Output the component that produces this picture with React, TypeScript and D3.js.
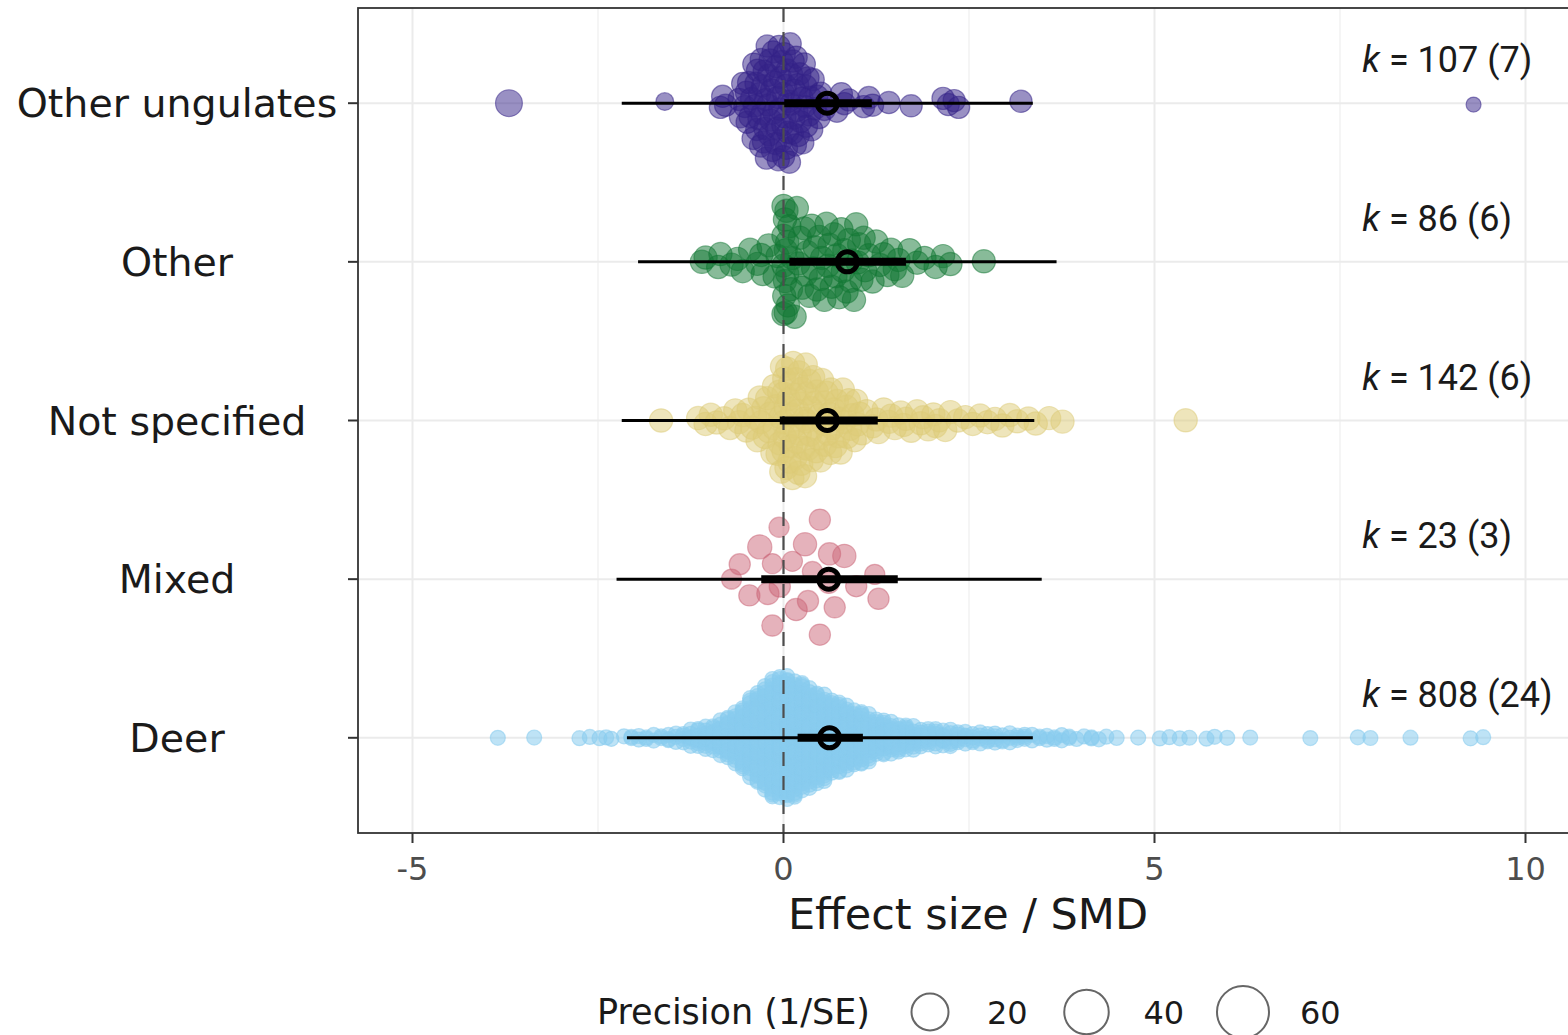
import React, { useMemo } from 'react';
import * as d3 from 'd3';

// ---------- data ----------
const categories = ['Other ungulates', 'Other', 'Not specified', 'Mixed', 'Deer'];
const colors = ['#332288', '#117733', '#DDCC77', '#CC6677', '#88CCEE'];
const kLabels = ['107 (7)', '86 (6)', '142 (6)', '23 (3)', '808 (24)'];
const kLabelX = 7.8;

const estimates = [0.59, 0.86, 0.59, 0.61, 0.62];
const ciLow = [0.01, 0.08, -0.05, -0.3, 0.19];
const ciHigh = [1.19, 1.65, 1.27, 1.54, 1.07];
const piLow = [-2.18, -1.96, -2.18, -2.25, -2.11];
const piHigh = [3.36, 3.68, 3.38, 3.48, 3.36];

const xTicks = [-5, 0, 5, 10];
const xMinor = [-2.5, 2.5, 7.5];
const legendPrecision = [20, 40, 60];

// Other ungulates (k = 107)
const ouValues = [
  -0.6, -0.58, -0.55, -0.52,
  -0.5, -0.49, -0.47, -0.45, -0.43, -0.41,
  -0.4, -0.39, -0.37, -0.36, -0.35, -0.33, -0.32, -0.31,
  -0.3, -0.29, -0.28, -0.27, -0.26, -0.25, -0.24, -0.23, -0.22, -0.21,
  -0.2, -0.19, -0.18, -0.17, -0.16, -0.15, -0.14, -0.13, -0.12, -0.11, -0.1,
  -0.09, -0.08, -0.07, -0.06, -0.05, -0.04, -0.03, -0.02, -0.01, 0, 0,
  0.01, 0.02, 0.03, 0.04, 0.05, 0.06, 0.07, 0.08, 0.09, 0.1,
  0.11, 0.12, 0.13, 0.14, 0.15, 0.16, 0.17, 0.18, 0.19,
  0.2, 0.22, 0.23, 0.25, 0.26, 0.28, 0.29, 0.3,
  0.31, 0.33, 0.35, 0.36, 0.38, 0.4,
  0.42, 0.45, 0.48, 0.5, 0.55, 0.6,
  -0.85, -0.82, -0.78,
  0.72, 0.78, 0.82, 0.88, 1.08, 1.15, 1.2, 1.42, 1.72, 2.15, 2.22, 2.3, 2.36, 3.2,
];
const ouPrecision = 11;
const ouOutliers: [number, number][] = [[-3.7, 16], [-1.6, 7], [9.3, 5]];

// Other (k = 86)
const otherValues = [
  -1.1, -1.05, -0.88, -0.85, -0.7, -0.62, -0.55, -0.45, -0.35, -0.3, -0.28, -0.2, -0.12, -0.08,
  0, 0, 0, 0, 0.01, 0.02, 0.02, 0.03, 0.03, 0.04, 0.05, 0.05, 0.06, 0.08,
  0.1, 0.12, 0.15, 0.18, 0.2, 0.22, 0.25, 0.28, 0.3, 0.32, 0.35, 0.38, 0.4, 0.42, 0.45, 0.48, 0.5, 0.52, 0.55, 0.58, 0.6,
  0.62, 0.65, 0.68, 0.7, 0.72, 0.75, 0.78, 0.8, 0.82, 0.85, 0.88, 0.9, 0.92, 0.95, 0.98, 1.0, 1.02, 1.05, 1.08, 1.1,
  1.15, 1.2, 1.25, 1.3, 1.35, 1.4, 1.45, 1.5, 1.55, 1.6,
  1.7, 1.8, 1.9, 2.05, 2.15, 2.25, 2.7,
];
const otherPrecision = 12;

// Not specified (k = 142)
const nsValues = [
  -1.65, -1.15, -1.05, -0.98, -0.9, -0.8, -0.72, -0.65, -0.6, -0.55, -0.5, -0.47, -0.42, -0.38, -0.35, -0.32, -0.3, -0.27, -0.25, -0.22,
  -0.2, -0.18, -0.15, -0.13, -0.12, -0.1, -0.08, -0.06, -0.05, -0.04, -0.03, -0.02, 0, 0, 0, 0.01, 0.02, 0.03, 0.04,
  0.05, 0.06, 0.07, 0.08, 0.09, 0.1, 0.11, 0.12, 0.13, 0.14, 0.15, 0.16, 0.17, 0.18, 0.19, 0.2, 0.21, 0.22, 0.23, 0.24,
  0.25, 0.27, 0.28, 0.29, 0.3, 0.31, 0.32, 0.33, 0.35, 0.36, 0.37, 0.38, 0.4, 0.41, 0.42, 0.44, 0.45, 0.47, 0.48, 0.5,
  0.52, 0.54, 0.55, 0.56, 0.58, 0.6, 0.62, 0.63, 0.64, 0.66, 0.68, 0.7, 0.72, 0.74, 0.75, 0.77, 0.8, 0.82,
  0.85, 0.86, 0.88, 0.9, 0.93, 0.96, 0.98, 1.0, 1.03, 1.06,
  1.12, 1.2, 1.25, 1.28, 1.35, 1.42, 1.45, 1.5, 1.58, 1.62, 1.65, 1.72, 1.8, 1.85, 1.88, 1.95, 2.02, 2.05, 2.1, 2.18, 2.25,
  2.35, 2.45, 2.55, 2.65, 2.75, 2.85, 2.95, 3.05, 3.15, 3.3, 3.4, 3.58, 3.76, 5.42,
];
const nsPrecision = 12;

// Mixed (k = 23)
const mixedValues = [0.49, -0.15, 0.17, 0.33, 0.69, 1.28, -0.46, -0.21, -0.05, 0.98, -0.7, 0.61,
  -0.59, -0.15, 0.12, 0.39, 1.23, 0.62, 0.82, -0.32, 0.29, -0.06, 0.49];
const mixedPrecision = [10, 9, 11, 10, 10, 10, 10, 11, 10, 10, 9, 10,
  10, 10, 9, 9, 9, 11, 12, 13, 12, 9, 10];

// Deer (k = 808): effect size (0.1-wide bin centre) and number of estimates
const deerBins: [number, number][] = [
  [-2.15, 1], [-2.05, 2], [-1.95, 2], [-1.85, 2], [-1.75, 2], [-1.65, 2], [-1.55, 3], [-1.45, 3],
  [-1.35, 4], [-1.25, 6], [-1.15, 7], [-1.05, 8], [-0.95, 9], [-0.85, 12], [-0.75, 14], [-0.65, 17],
  [-0.55, 22], [-0.45, 27], [-0.35, 31], [-0.25, 35], [-0.15, 40], [-0.05, 44], [0.05, 44], [0.15, 39],
  [0.25, 37], [0.35, 34], [0.45, 31], [0.55, 29], [0.65, 26], [0.75, 25], [0.85, 21], [0.95, 20],
  [1.05, 18], [1.15, 16], [1.25, 14], [1.35, 12], [1.45, 11], [1.55, 10], [1.65, 9], [1.75, 8],
  [1.85, 7], [1.95, 7], [2.05, 6], [2.15, 6], [2.25, 6], [2.35, 5], [2.45, 5], [2.55, 4],
  [2.65, 4], [2.75, 4], [2.85, 4], [2.95, 3], [3.05, 3], [3.15, 3], [3.25, 3], [3.35, 2],
  [3.45, 2], [3.55, 2], [3.65, 2], [3.75, 2], [3.85, 2], [3.95, 1], [4.05, 1], [4.15, 2],
  [4.25, 1], [4.35, 1],
];
const deerTails = [-3.85, -3.36, -2.75, -2.61, -2.48, -2.39, -2.32,
  4.49, 4.78, 5.07, 5.2, 5.34, 5.47, 5.7, 5.81, 5.98, 6.29, 7.1, 7.74, 7.91, 8.45, 9.26, 9.43];
const deerPrecision = 5;

// ---------- helpers ----------
function vdc(n: number, base = 2) {
  let q = 0, bk = 1 / base, i = n;
  while (i > 0) { q += (i % base) * bk; i = Math.floor(i / base); bk /= base; }
  return q;
}

function quasirandom(vals: number[], width: number): number[] {
  const n = vals.length;
  const sorted = vals.slice().sort((a, b) => a - b);
  const sd = d3.deviation(vals) || 1;
  const q1 = d3.quantileSorted(sorted, 0.25)!, q3 = d3.quantileSorted(sorted, 0.75)!;
  let lo = Math.min(sd, (q3 - q1) / 1.34);
  if (!(lo > 0)) lo = sd;
  const bw = 0.9 * lo * Math.pow(n, -0.2) * 0.5;
  const kde = (x: number) => {
    let s = 0;
    for (const v of vals) { const z = (x - v) / bw; s += Math.exp(-0.5 * z * z); }
    return s;
  };
  const mn = sorted[0] - 3 * bw, mx = sorted[n - 1] + 3 * bw;
  let maxD = 0;
  for (let i = 0; i <= 512; i++) maxD = Math.max(maxD, kde(mn + (mx - mn) * i / 512));
  const idx = d3.range(n).sort((a, b) => vals[a] - vals[b] || a - b);
  const rank = new Array(n);
  idx.forEach((k, r) => { rank[k] = r + 1; });
  return vals.map((v, i) => (vdc(rank[i]) - 0.5) * 2 * (kde(v) / maxD) * width);
}

type Pt = { v: number; p: number };

export default function App() {
  const W = 1568, H = 1035;
  const panel = { left: 358, top: 8, bottom: 833, right: 1600 };
  const x = d3.scaleLinear().domain([-5, 10]).range([412.5, 1525.5]);
  const y = d3.scalePoint<string>().domain(categories).range([panel.top, panel.bottom]).padding(0.6);
  const step = y.step();
  const rScale = d3.scaleSqrt().domain([0, 60]).range([0, 26]);
  const legendR = d3.scaleLinear().domain([20, 60]).range([18.5, 26]);

  const groups = useMemo(() => {
    const ou: Pt[] = ouValues.map(v => ({ v, p: ouPrecision })).concat(ouOutliers.map(([v, p]) => ({ v, p })));
    const other: Pt[] = otherValues.map(v => ({ v, p: otherPrecision }));
    const ns: Pt[] = nsValues.map(v => ({ v, p: nsPrecision }));
    const mixed: Pt[] = mixedValues.map((v, i) => ({ v, p: mixedPrecision[i] }));
    const deer: Pt[] = [];
    deerBins.forEach(([v, n]) => { for (let j = 0; j < n; j++) deer.push({ v, p: deerPrecision }); });
    deerTails.forEach(v => deer.push({ v, p: deerPrecision }));
    return [ou, other, ns, mixed, deer].map(pts => {
      const offs = quasirandom(pts.map(d => d.v), 0.4 * step);
      return pts.map((d, i) => ({ ...d, off: offs[i] }));
    });
  }, [step]);

  const axisFont = 'DejaVu Sans';
  const opac = [0.5, 0.5, 0.5, 0.5, 0.55];

  return (
    <svg width={W} height={H} style={{ position: 'absolute', left: 0, top: 0, display: 'block', background: '#fff' }}>
      <rect x={0} y={0} width={W} height={H} fill="#fff" />
      {/* grid */}
      {xMinor.map(t => (
        <line key={'mi' + t} x1={x(t)} x2={x(t)} y1={panel.top} y2={panel.bottom} stroke="#ebebeb" strokeWidth={1} />
      ))}
      {xTicks.map(t => (
        <line key={'ma' + t} x1={x(t)} x2={x(t)} y1={panel.top} y2={panel.bottom} stroke="#ebebeb" strokeWidth={2} />
      ))}
      {categories.map(c => (
        <line key={'h' + c} x1={panel.left} x2={panel.right} y1={y(c)!} y2={y(c)!} stroke="#ebebeb" strokeWidth={2} />
      ))}
      {/* points */}
      {groups.map((pts, gi) => (
        <g key={'g' + gi}>
          {pts.map((d, i) => (
            <circle key={i} cx={x(d.v)} cy={y(categories[gi])! + d.off} r={rScale(d.p)}
              fill={colors[gi]} fillOpacity={opac[gi]} stroke={colors[gi]} strokeOpacity={opac[gi]} strokeWidth={1.2} />
          ))}
        </g>
      ))}
      {/* zero line */}
      <line x1={x(0)} x2={x(0)} y1={panel.top} y2={panel.bottom} stroke="#4d4d4d" strokeWidth={2.2} strokeDasharray="14,10" />
      {/* summaries */}
      {categories.map((c, i) => {
        const cy = y(c)!;
        return (
          <g key={'s' + c}>
            <line x1={x(piLow[i])} x2={x(piHigh[i])} y1={cy} y2={cy} stroke="#000" strokeWidth={3} />
            <line x1={x(ciLow[i])} x2={x(ciHigh[i])} y1={cy} y2={cy} stroke="#000" strokeWidth={8} />
            <circle cx={x(estimates[i])} cy={cy} r={10} fill="none" stroke="#000" strokeWidth={5} />
          </g>
        );
      })}
      {/* k labels */}
      {categories.map((c, i) => (
        <text key={'k' + c} x={x(kLabelX)} y={y(c)! - 31} fontFamily="Roboto" fontSize={36} fill="#1a1a1a">
          <tspan fontStyle="italic">k</tspan>
          <tspan>{' = ' + kLabels[i]}</tspan>
        </text>
      ))}
      {/* panel border */}
      <rect x={panel.left} y={panel.top} width={panel.right - panel.left} height={panel.bottom - panel.top}
        fill="none" stroke="#333333" strokeWidth={1.8} />
      {/* y axis */}
      {categories.map(c => (
        <g key={'yl' + c}>
          <line x1={panel.left - 10} x2={panel.left} y1={y(c)!} y2={y(c)!} stroke="#333333" strokeWidth={2} />
          <text x={177} y={y(c)!} dy="0.36em" textAnchor="middle" fontFamily={axisFont} fontSize={39.5} fill="#1a1a1a">{c}</text>
        </g>
      ))}
      {/* x axis */}
      {xTicks.map(t => (
        <g key={'xt' + t}>
          <line x1={x(t)} x2={x(t)} y1={panel.bottom} y2={panel.bottom + 10} stroke="#333333" strokeWidth={2} />
          <text x={x(t)} y={880} textAnchor="middle" fontFamily={axisFont} fontSize={32} fill="#4d4d4d">{t}</text>
        </g>
      ))}
      <text x={(panel.left + W) / 2 + 5} y={929} textAnchor="middle" fontFamily={axisFont} fontSize={43} fill="#1a1a1a">Effect size / SMD</text>
      {/* legend */}
      <text x={597} y={1024} fontFamily={axisFont} fontSize={35} fill="#1a1a1a">Precision (1/SE)</text>
      {legendPrecision.map((p, i) => {
        const cx = 930 + i * 156.5;
        return (
          <g key={'lg' + p}>
            <circle cx={cx} cy={1012} r={legendR(p)} fill="none" stroke="#666" strokeWidth={2} />
            <text x={cx + 57} y={1024} fontFamily={axisFont} fontSize={32} fill="#1a1a1a">{p}</text>
          </g>
        );
      })}
    </svg>
  );
}
